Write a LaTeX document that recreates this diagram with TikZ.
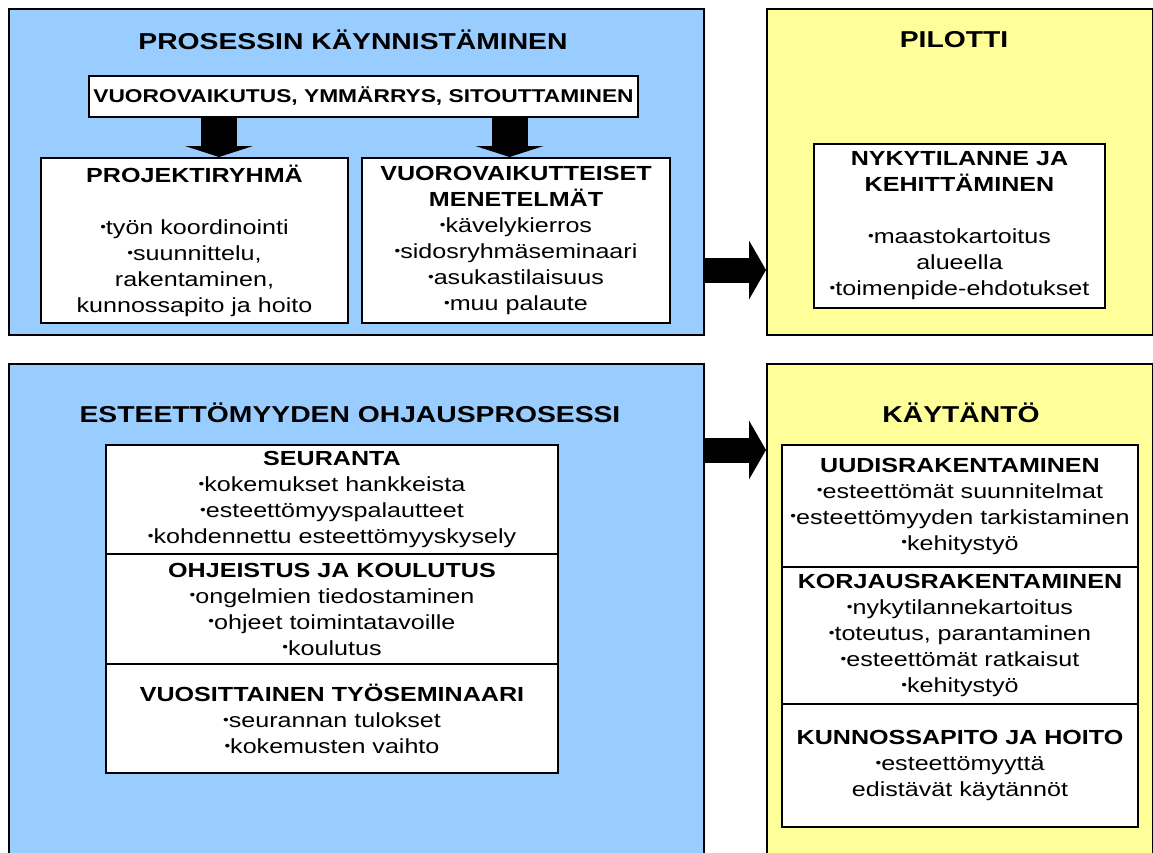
\documentclass[tikz,border=0pt]{standalone}
\usepackage{fontspec}
\usepackage{graphicx}
\setmainfont{Liberation Sans}[FakeStretch=1.23]
\usetikzlibrary{arrows.meta}

\definecolor{paneblue}{HTML}{99CCFF}
\definecolor{paneyellow}{HTML}{FFFF99}
\newcommand{\bul}{\raisebox{.15em}{\scalebox{.65}{•}}}

\begin{document}
\begin{tikzpicture}[x=1pt,y=-1pt,
        panel/.style={draw, line width=2.4pt, anchor=north west, inner sep=0pt},
        box/.style={draw, line width=2pt, fill=white, align=center, inner sep=0pt, font=\fontsize{20.4}{26}\selectfont},
        heading/.style={font=\fontsize{23}{26}\selectfont\bfseries},
        bigdown/.style={line width=36pt, -{Triangle[length=11pt,width=68pt,line width=0pt]}},
        bigright/.style={line width=25pt, -{Triangle[length=17pt,width=59pt,line width=0pt]}}]
        \useasboundingbox (0,0) rectangle (1153,852);
        \clip (0,0) rectangle (1153,852);
        \fill[white] (0,0) rectangle (1153,852);

        \node (start) at (8,8) [panel, fill=paneblue, minimum width=695pt, minimum height=326pt] {};
        \node (pilot) at (766,8) [panel, fill=paneyellow, minimum width=386pt, minimum height=326pt] {};
        \node (ohjaus) at (8,363) [panel, fill=paneblue, minimum width=695pt, minimum height=520pt] {};
        \node (kaytanto) at (766,363) [panel, fill=paneyellow, minimum width=386pt, minimum height=520pt] {};

        \node (tstart) at (353,40) [heading] {PROSESSIN KÄYNNISTÄMINEN};
        \node (tpilot) at (954,40) [heading] {PILOTTI};
        \node (tohjaus) at (350,413) [heading] {ESTEETTÖMYYDEN OHJAUSPROSESSI};
        \node (tkaytanto) at (961,413) [heading] {KÄYTÄNTÖ};

        \node (vuoro) at (363.5,96.5) [box, minimum width=549pt, minimum height=41pt, font=\fontsize{18.5}{22}\selectfont\bfseries] {VUOROVAIKUTUS, YMMÄRRYS, SITOUTTAMINEN};
        \node (proj) at (194.5,240.5) [box, minimum width=307pt, minimum height=165pt] {\textbf{PROJEKTIRYHMÄ}\\[26pt] \bul työn koordinointi\\ \bul suunnittelu,\\ rakentaminen,\\ kunnossapito ja hoito};
        \node (menet) at (516,240.5) [box, minimum width=308pt, minimum height=165pt] {\textbf{VUOROVAIKUTTEISET}\\ \textbf{MENETELMÄT}\\ \bul kävelykierros\\ \bul sidosryhmäseminaari\\ \bul asukastilaisuus\\ \bul muu palaute};
        \node (nyky) at (959.5,226) [box, minimum width=291pt, minimum height=164pt] {\textbf{NYKYTILANNE JA}\\ \textbf{KEHITTÄMINEN}\\[26pt] \bul maastokartoitus\\ alueella\\ \bul toimenpide-ehdotukset};

        \node (seuranta) at (332,499.5) [box, minimum width=452pt, minimum height=109pt] {\textbf{SEURANTA}\\ \bul kokemukset hankkeista\\ \bul esteettömyyspalautteet\\ \bul kohdennettu esteettömyyskysely};
        \node (ohjeistus) at (332,609) [box, minimum width=452pt, minimum height=110pt] {\textbf{OHJEISTUS JA KOULUTUS}\\ \bul ongelmien tiedostaminen\\ \bul ohjeet toimintatavoille\\ \bul koulutus};
        \node (seminaari) at (332,718.5) [box, minimum width=452pt, minimum height=109pt] {\textbf{VUOSITTAINEN TYÖSEMINAARI}\\ \bul seurannan tulokset\\ \bul kokemusten vaihto};

        \node (uudis) at (960,506) [box, minimum width=356pt, minimum height=122pt] {\textbf{UUDISRAKENTAMINEN}\\ \bul esteettömät suunnitelmat\\ \bul esteettömyyden tarkistaminen\\ \bul kehitystyö};
        \node (korjaus) at (960,635.5) [box, minimum width=356pt, minimum height=137pt] {\textbf{KORJAUSRAKENTAMINEN}\\ \bul nykytilannekartoitus\\ \bul toteutus, parantaminen\\ \bul esteettömät ratkaisut\\ \bul kehitystyö};
        \node (kunnossa) at (960,765.5) [box, minimum width=356pt, minimum height=123pt] {\textbf{KUNNOSSAPITO JA HOITO}\\ \bul esteettömyyttä\\ edistävät käytännöt};

        % block arrows
        \coordinate (d1) at (219,0);
        \coordinate (d2) at (509.5,0);
        \coordinate (r1) at (0,270);
        \coordinate (r2) at (0,450);
        \draw[bigdown] (vuoro.south -| d1) -- (proj.north -| d1);
        \draw[bigdown] (vuoro.south -| d2) -- (menet.north -| d2);
        \draw[bigright] (start.east |- r1) -- (pilot.west |- r1);
        \draw[bigright] (ohjaus.east |- r2) -- (kaytanto.west |- r2);
        \end{tikzpicture}
\end{document}
